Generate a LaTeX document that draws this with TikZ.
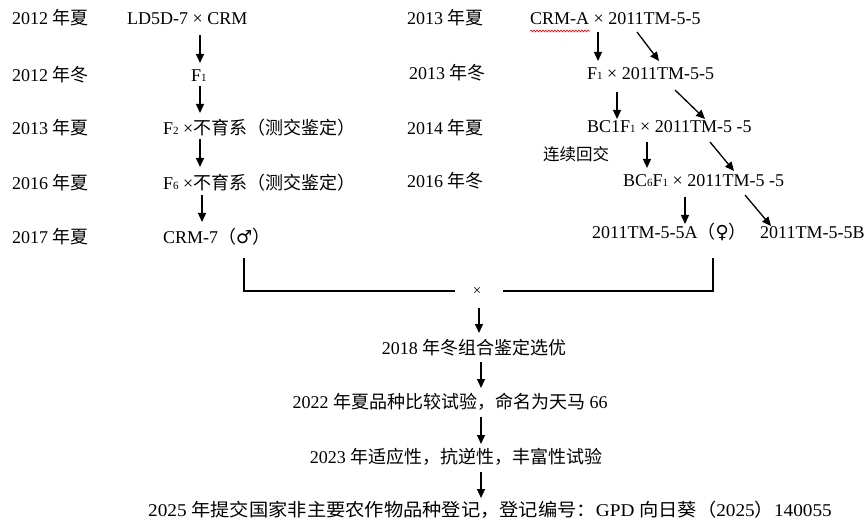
\documentclass[tikz,border=0pt]{standalone}
\usepackage{fontspec}
\setmainfont{Liberation Serif}
\newfontfamily\cjkfont{Noto Sans CJK SC}
\newfontfamily\symfont{DejaVu Sans}
\usetikzlibrary{arrows.meta,decorations.pathmorphing}
\newcommand\zh[1]{{\cjkfont #1}}
\newcommand\sy[1]{{\symfont #1}}
\newcommand\sbx[1]{{\fontsize{11}{11}\selectfont #1}}
\tikzset{
  txt/.style={inner sep=0pt, anchor=base west, font=\fontsize{18}{20}\selectfont},
  ctxt/.style={inner sep=0pt, anchor=base, font=\fontsize{18}{20}\selectfont},
  arr/.style={line width=1.3pt, -{Triangle[length=9pt,width=8pt]}},
  brk/.style={line width=1.6pt},
}
\begin{document}
\begin{tikzpicture}[x=1pt,y=-1pt]
\useasboundingbox (0,0) rectangle (866,521);
% left labels
\node[txt] (l1) at (12,25) {2012 \zh{年夏}};
\node[txt] (l2) at (12,82) {2012 \zh{年冬}};
\node[txt] (l3) at (12,135) {2013 \zh{年夏}};
\node[txt] (l4) at (12,190) {2016 \zh{年夏}};
\node[txt] (l5) at (12,243) {2017 \zh{年夏}};
% left column
\node[txt] (ld) at (127,25) {LD5D-7 × CRM};
\node[txt] (f1) at (191,82) {F\sbx{1}};
\node[txt] (f2) at (163,135) {F\sbx{2} ×\zh{不育系（测交鉴定）}};
\node[txt] (f6) at (163,190) {F\sbx{6} ×\zh{不育系（测交鉴定）}};
\node[txt] (crm7) at (163,243) {CRM-7\zh{（}\sy{♂}\zh{）}};
% right labels
\node[txt] (r1) at (407,25) {2013 \zh{年夏}};
\node[txt] (r2) at (409,80) {2013 \zh{年冬}};
\node[txt] (r3) at (407,135) {2014 \zh{年夏}};
\node[txt] (r4) at (407,188) {2016 \zh{年冬}};
% right column
\node[txt] (crma) at (530,25) {CRM-A × 2011TM-5-5};
\node[txt] (rf1) at (587,80) {F\sbx{1} × 2011TM-5-5};
\node[txt] (bc1) at (587,133) {BC1F\sbx{1} × 2011TM-5 -5};
\node[txt, font=\fontsize{16.5}{18}\selectfont] (lx) at (543,161) {\zh{连续回交}};
\node[txt] (bc6) at (623,187) {BC\sbx{6}F\sbx{1} × 2011TM-5 -5};
\node[txt] (tma) at (592,238) {2011TM-5-5A\zh{（}\sy{♀}\zh{）}};
\node[txt] (tmb) at (760,238) {2011TM-5-5B};
\draw[red, line width=0.6pt, decorate, decoration={snake, amplitude=1pt, segment length=3pt}] (530,31) -- (590,31);
% left arrows
\coordinate (p1a) at (200,35); \coordinate (p1b) at (200,63);
\coordinate (p2a) at (200,86); \coordinate (p2b) at (200,113);
\coordinate (p3a) at (200,139); \coordinate (p3b) at (200,167);
\coordinate (p4a) at (202,195); \coordinate (p4b) at (202,222);
\draw[arr] (p1a) -- (p1b);
\draw[arr] (p2a) -- (p2b);
\draw[arr] (p3a) -- (p3b);
\draw[arr] (p4a) -- (p4b);
% right arrows
\coordinate (q1a) at (598,32); \coordinate (q1b) at (598,61);
\coordinate (q2a) at (637,32); \coordinate (q2b) at (659,61);
\coordinate (q3a) at (617,92); \coordinate (q3b) at (617,119);
\coordinate (q4a) at (675,90); \coordinate (q4b) at (705,119);
\coordinate (q5a) at (647,142); \coordinate (q5b) at (647,168);
\coordinate (q6a) at (710,142); \coordinate (q6b) at (734,171);
\coordinate (q7a) at (685,197); \coordinate (q7b) at (685,224);
\coordinate (q8a) at (745,195); \coordinate (q8b) at (771,226);
\draw[arr] (q1a) -- (q1b);
\draw[arr] (q2a) -- (q2b);
\draw[arr] (q3a) -- (q3b);
\draw[arr] (q4a) -- (q4b);
\draw[arr] (q5a) -- (q5b);
\draw[arr] (q6a) -- (q6b);
\draw[arr] (q7a) -- (q7b);
\draw[arr] (q8a) -- (q8b);
% bracket
\node[inner sep=0pt, font=\fontsize{15}{15}\selectfont] (x) at (477,291) {×};
\coordinate (bl) at (244,258); \coordinate (br) at (713,258);
\draw[brk] (bl) |- ([xshift=-22pt]x.center);
\draw[brk] (br) |- ([xshift=26pt]x.center);
\coordinate (xa) at (479,308); \coordinate (xb) at (479,333);
\draw[arr] (xa) -- (xb);
% bottom chain
\node[ctxt] (b1) at (474,354) {2018 \zh{年冬组合鉴定选优}};
\node[ctxt] (b2) at (450,408) {2022 \zh{年夏品种比较试验，命名为天马} 66};
\node[ctxt] (b3) at (456,463) {2023 \zh{年适应性，抗逆性，丰富性试验}};
\node[ctxt] (b4) at (490,516) {\scalebox{1.07}[1]{2025 \zh{年提交国家非主要农作物品种登记，登记编号：}GPD \zh{向日葵（}2025\zh{）}140055}};
\coordinate (c1a) at (481,362); \coordinate (c1b) at (481,388);
\coordinate (c2a) at (481,417); \coordinate (c2b) at (481,444);
\coordinate (c3a) at (481,472); \coordinate (c3b) at (481,498);
\draw[arr] (c1a) -- (c1b);
\draw[arr] (c2a) -- (c2b);
\draw[arr] (c3a) -- (c3b);
\end{tikzpicture}
\end{document}
